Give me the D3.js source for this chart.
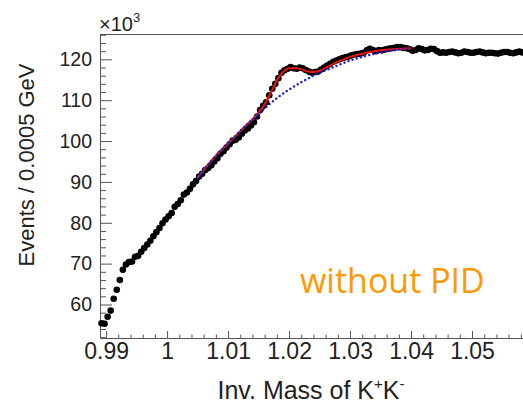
<!DOCTYPE html>
<html>
<head>
<meta charset="utf-8">
<script src="https://cdn.jsdelivr.net/npm/d3@7"></script>
<style>
  body { margin: 0; background: #fff; }
  svg { display: block; }
</style>
</head>
<body>
<div id="chart"></div>
<script>
// bin centres: 0.98925 + 0.0005*i  (values in units of 10^3 events)
const binStart = 0.98925;
const binWidth = 0.0005;
const counts = [
  55.4, 55.3, 57.0, 58.5, 61.4, 63.6, 66.0, 68.5, 69.8, 70.4,
  70.5, 71.7, 71.9, 72.9, 73.8, 74.7, 75.6, 76.7, 77.7, 78.7,
  79.9, 80.8, 81.6, 82.4, 83.9, 84.6, 85.5, 86.9, 87.4, 88.3,
  89.4, 90.2, 91.3, 92.0, 92.9, 93.4, 94.1, 95.0, 95.8, 96.9,
  97.5, 98.4, 99.2, 100.1, 100.3, 100.9, 101.8, 102.6, 103.1, 103.8,
  104.6, 106.0, 107.6, 108.6, 109.5, 111.2, 112.8, 114.0, 115.4, 116.7,
  117.3, 117.7, 118.1, 117.8, 117.7, 118.0, 117.8, 117.4, 117.0, 116.7,
  116.9, 117.0, 117.5, 118.0, 118.5, 118.9, 119.4, 119.7, 120.0, 120.3,
  120.5, 120.7, 121.0, 121.2, 121.3, 121.4, 121.6, 122.2, 122.6, 122.3,
  122.0, 122.3, 122.2, 122.4, 122.6, 122.7, 122.8, 123.0, 123.0, 122.8,
  122.7, 122.5, 122.1, 122.3, 122.7, 122.5, 122.2, 122.3, 122.6, 122.5,
  122.0, 121.6, 121.7, 121.6, 121.8, 121.9, 121.7, 121.5, 121.6, 121.9,
  121.8, 121.6, 121.6, 121.8, 121.9, 121.7, 121.5, 121.6, 121.6, 121.5,
  121.4, 121.6, 121.8, 121.8, 121.6, 121.5, 121.7, 121.9, 121.7
];

// fit curves
const fitMass = [1.005, 1.0075, 1.01, 1.0125, 1.015, 1.016, 1.017, 1.018, 1.019, 1.02,
                 1.021, 1.022, 1.023, 1.024, 1.025, 1.027, 1.03, 1.0325, 1.035, 1.0375, 1.04];
const fitTotal = [91.0, 95.6, 99.4, 103.2, 107.0, 109.0, 111.8, 114.8, 116.9, 117.8,
                  117.9, 117.6, 117.1, 116.9, 117.2, 118.7, 120.6, 121.5, 122.2, 122.5, 122.7];
const fitBkg = [91.0, 95.6, 99.4, 103.2, 106.6, 108.0, 109.3, 110.5, 111.6, 112.6,
                113.5, 114.4, 115.2, 116.0, 116.7, 117.9, 119.7, 120.8, 121.7, 122.3, 122.7];

const yMajor = [60, 70, 80, 90, 100, 110, 120];
const xMajor = [0.99, 1.00, 1.01, 1.02, 1.03, 1.04, 1.05];
const xLabels = ["0.99", "1", "1.01", "1.02", "1.03", "1.04", "1.05"];

const W = 523, H = 407;
const m = {t: 34, l: 100, b: 338, r: 533};
const font = "'Liberation Sans', Arial, Helvetica, sans-serif";

const svg = d3.select("#chart").append("svg")
  .attr("width", W).attr("height", H);

const x = d3.scaleLinear().domain([0.989, 1.06]).range([m.l, m.r]);
const y = d3.scaleLinear().domain([51.8, 126.2]).range([m.b, m.t]);

const axisCol = "#555";

// minor ticks
const yMinor = d3.range(52, 126.1, 2).filter(v => v % 10 !== 0);
const xMinor = d3.range(0, 35).map(k => +(0.99 + 0.002 * k).toFixed(3))
  .filter(v => Math.round(v * 1000) % 10 !== 0);

svg.append("g").attr("transform", `translate(${m.l},0)`)
  .call(d3.axisLeft(y).tickValues(yMinor).tickSize(-6).tickFormat(""))
  .call(g => g.select(".domain").remove())
  .selectAll("line").attr("stroke", axisCol);

svg.append("g").attr("transform", `translate(0,${m.b})`)
  .call(d3.axisBottom(x).tickValues(xMinor).tickSize(-3.5).tickFormat(""))
  .call(g => g.select(".domain").remove())
  .selectAll("line").attr("stroke", axisCol);

// major axes
const gy = svg.append("g").attr("transform", `translate(${m.l},0)`)
  .call(d3.axisLeft(y).tickValues(yMajor).tickSize(-12).tickPadding(8).tickSizeOuter(0));
gy.selectAll("line").attr("stroke", axisCol);
gy.select(".domain").attr("stroke", axisCol);
gy.selectAll("text").attr("font-family", font)
  .attr("font-size", 19.5).attr("fill", "#222");

const gx = svg.append("g").attr("transform", `translate(0,${m.b})`)
  .call(d3.axisBottom(x).tickValues(xMajor).tickSize(-7).tickPadding(5).tickSizeOuter(0)
    .tickFormat((d, i) => xLabels[i]));
gx.selectAll("line").attr("stroke", axisCol);
gx.select(".domain").attr("stroke", axisCol);
gx.selectAll("text").attr("font-family", font)
  .attr("font-size", 23).attr("fill", "#222");

// top frame line
svg.append("line")
  .attr("x1", m.l).attr("x2", m.r).attr("y1", m.t + 0.5).attr("y2", m.t + 0.5)
  .attr("stroke", axisCol);

// data points
svg.append("g").selectAll("circle")
  .data(counts)
  .join("circle")
  .attr("cx", (d, i) => x(binStart + binWidth * i))
  .attr("cy", d => y(d))
  .attr("r", 3.3)
  .attr("fill", "#000");

const line = d3.line()
  .x((d, i) => x(fitMass[i]))
  .y(d => y(d))
  .curve(d3.curveMonotoneX);

svg.append("path").datum(fitTotal)
  .attr("d", line)
  .attr("fill", "none")
  .attr("stroke", "#e8130f")
  .attr("stroke-width", 2);

svg.append("path").datum(fitBkg)
  .attr("d", line)
  .attr("fill", "none")
  .attr("stroke", "#1f1fd0")
  .attr("stroke-width", 2.4)
  .attr("stroke-linecap", "round")
  .attr("stroke-dasharray", "0.1,4.2");

// axis titles
svg.append("text")
  .attr("transform", "translate(34,165) rotate(-90)")
  .attr("text-anchor", "middle")
  .attr("font-family", font)
  .attr("font-size", 22)
  .attr("fill", "#222")
  .text("Events / 0.0005 GeV");

const xt = svg.append("text")
  .attr("x", 311).attr("y", 399)
  .attr("text-anchor", "middle")
  .attr("font-family", font)
  .attr("font-size", 25)
  .attr("fill", "#222");
xt.append("tspan").text("Inv. Mass of K");
xt.append("tspan").attr("dy", -10).attr("font-size", 15).text("+");
xt.append("tspan").attr("dy", 10).text("K");
xt.append("tspan").attr("dy", -10).attr("font-size", 15).text("-");

const ex = svg.append("text")
  .attr("x", 99).attr("y", 31)
  .attr("font-family", font)
  .attr("font-size", 20)
  .attr("fill", "#222");
ex.append("tspan").text("\u00d710");
ex.append("tspan").attr("dy", -9).attr("font-size", 13).text("3");

svg.append("text")
  .attr("x", 300).attr("y", 293)
  .attr("font-family", "'Open Sans', 'Noto Sans', sans-serif")
  .attr("font-size", 34)
  .attr("fill", "#ff9900")
  .text("without PID");
</script>
</body>
</html>
